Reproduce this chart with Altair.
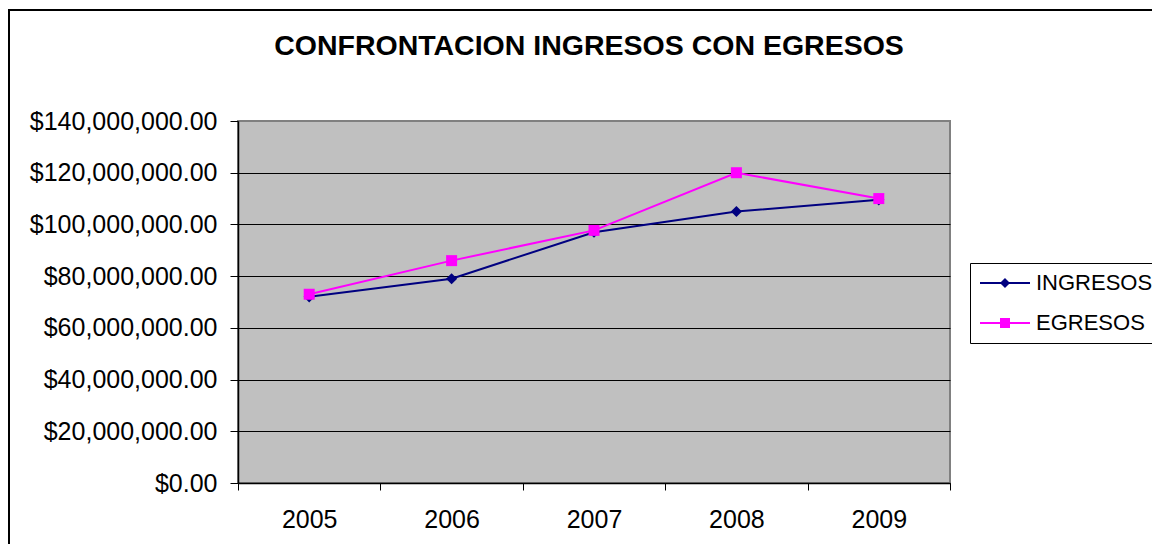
import altair as alt
import pandas as pd

# ---- data ----
YEARS = [2005, 2006, 2007, 2008, 2009]
INGRESOS = [72_000_000, 79_000_000, 97_000_000, 105_000_000, 109_500_000]
EGRESOS = [73_000_000, 86_000_000, 97_700_000, 120_000_000, 110_000_000]
SERIES = ["INGRESOS", "EGRESOS"]
COLORS = ["#000080", "#FF00FF"]
Y_TICKS = [0, 20_000_000, 40_000_000, 60_000_000, 80_000_000, 100_000_000, 120_000_000, 140_000_000]
TITLE = "CONFRONTACION INGRESOS CON EGRESOS"

rows = []
for s, vals in zip(SERIES, [INGRESOS, EGRESOS]):
    for yr, v in zip(YEARS, vals):
        rows.append({"year": str(yr), "series": s, "value": v})
df = pd.DataFrame(rows)

FONT = "Liberation Sans"
DIAMOND = "M0,-1L1,0L0,1L-1,0Z"
LEG_DIAMOND = "M-1,0L4,0M1.5,-0.36L1.86,0L1.5,0.36L1.14,0Z"
LEG_SQUARE = "M-1,0L4,0M1.1,-0.4L1.9,-0.4L1.9,0.4L1.1,0.4Z"

x_enc = alt.X(
    "year:O",
    sort=[str(y) for y in YEARS],
    scale=alt.Scale(type="band", paddingInner=0, paddingOuter=0),
    axis=alt.Axis(
        tickBand="extent",
        labelAngle=0,
        grid=False,
        title=None,
        tickSize=7,
        tickColor="#000000",
        domainColor="#000000",
        domainWidth=1.5,
        labelPadding=17,
        labelFontSize=25,
        labelFont=FONT,
        labelColor="#000000",
    ),
)
y_enc = alt.Y(
    "value:Q",
    scale=alt.Scale(domain=[0, 140_000_000], nice=False),
    axis=alt.Axis(
        values=Y_TICKS,
        format="$,.2f",
        title=None,
        grid=True,
        gridColor="#000000",
        gridWidth=1,
        gridOpacity={"condition": {"test": "datum.value >= 140000000", "value": 0}, "value": 1},
        tickSize=8,
        tickColor="#000000",
        domainColor="#000000",
        domainWidth=1.5,
        labelPadding=13,
        labelLimit=400,
        labelFontSize=25,
        labelFont=FONT,
        labelColor="#000000",
    ),
)

border = alt.Chart(pd.DataFrame({"k": [0]})).mark_rect(
    fillOpacity=0, stroke="#000000", strokeWidth=2
).encode(
    x=alt.value(-229), y=alt.value(-111), x2=alt.value(940), y2=alt.value(445)
)

def series_layers(name, color, shape, size):
    base = alt.Chart(df).transform_filter(alt.datum.series == name)
    line = base.mark_line(color=color, strokeWidth=2).encode(x=x_enc, y=y_enc)
    pts = base.mark_point(shape=shape, filled=True, size=size, color=color, opacity=1).encode(
        x=x_enc, y=y_enc
    )
    return [line, pts]

legend_props = dict(
    title=None,
    orient="none",
    legendX=732,
    legendY=142,
    padding=9,
    fillColor="#FFFFFF",
    strokeColor="#000000",
    symbolSize=400,
    symbolStrokeWidth=2,
    symbolOpacity=1,
    labelOffset=35,
    labelFontSize=22,
    labelFont=FONT,
    labelColor="#000000",
    labelLimit=400,
    rowPadding=18,
)

legend_layer = alt.Chart(df).transform_filter("false").mark_point(
    filled=True, size=400, strokeWidth=2, opacity=1
).encode(
    fill=alt.Fill("series:N", scale=alt.Scale(domain=SERIES, range=COLORS), legend=alt.Legend(**legend_props)),
    stroke=alt.Stroke("series:N", scale=alt.Scale(domain=SERIES, range=COLORS), legend=alt.Legend(**legend_props)),
    shape=alt.Shape("series:N", scale=alt.Scale(domain=SERIES, range=[LEG_DIAMOND, LEG_SQUARE]), legend=alt.Legend(**legend_props)),
)

layers = [border]
layers += series_layers("INGRESOS", COLORS[0], DIAMOND, 125)
layers += series_layers("EGRESOS", COLORS[1], "square", 121)
layers.append(legend_layer)

chart = alt.layer(*layers).properties(
    width=712,
    height=362,
    autosize=alt.AutoSizeParams(type="none"),
    padding={"left": 230, "top": 113, "right": 202, "bottom": 61},
    view=alt.ViewBackground(fill="#C0C0C0", stroke="#808080", strokeWidth=2),
    title=alt.TitleParams(
        TITLE, anchor="middle", frame="group", fontSize=28.5, fontWeight="bold",
        font=FONT, color="#000000", offset=-51, dx=-5,
    ),
).configure(background="#FFFFFF").configure_view(
    fill="#C0C0C0", stroke="#808080", strokeWidth=2
)

chart.save("out.html", embed_options={"renderer": "svg", "actions": False})
